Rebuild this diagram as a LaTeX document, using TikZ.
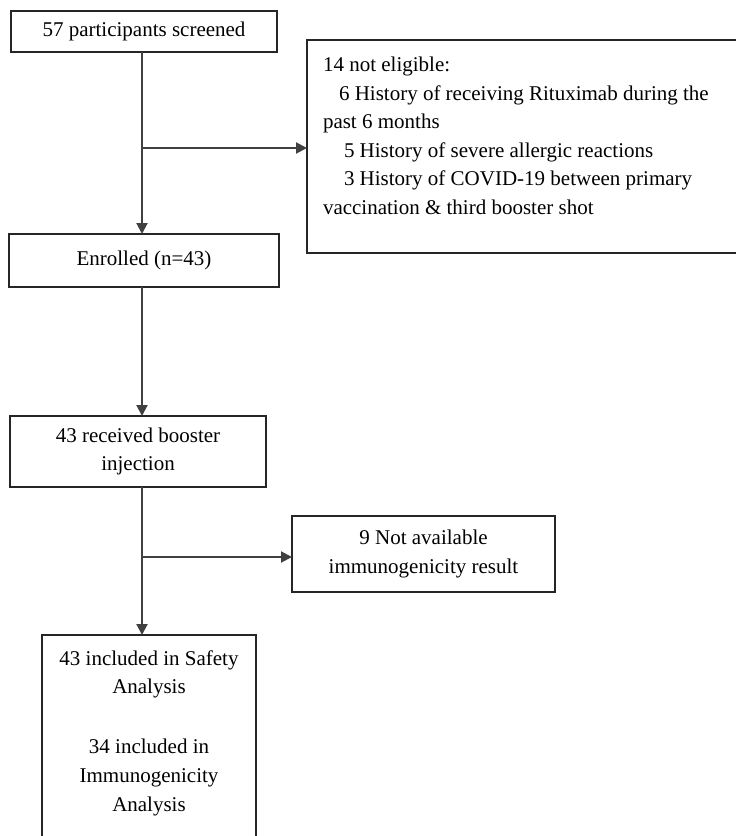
\documentclass[tikz,border=0pt]{standalone}
\usepackage{fontspec}
\setmainfont{Liberation Serif}
\usetikzlibrary{arrows.meta}

\newcommand{\flowfont}{\fontsize{21}{28.6}\selectfont}
\tikzset{
	stagebox/.style={draw=black!85,line width=1.5pt,rectangle,inner sep=0,outer sep=0,align=center,font=\flowfont},
	boxtext/.style={inner sep=0,outer sep=0,font=\flowfont},
	flowline/.style={draw=black!75,line width=2pt,-{Triangle[length=11pt,width=11pt]}},
}

\begin{document}
\begin{tikzpicture}[x=1pt,y=1pt]
	\useasboundingbox (0,0) rectangle (736,-836);
	\clip (0,0) rectangle (736,-836);
	% boxes
	\node[stagebox,minimum width=266pt,minimum height=41pt] (screen) at (144,-31.5) {57 participants screened};
	\node[stagebox,minimum width=450pt,minimum height=213pt,anchor=north west] (excl) at (307,-40) {};
	\node[boxtext,anchor=north west,align=left] (excltext) at (323,-57) {14 not eligible:\\
		\hspace*{16pt}6 History of receiving Rituximab during the\\
		past 6 months\\
		\hspace*{21pt}5 History of severe allergic reactions\\
		\hspace*{21pt}3 History of COVID-19 between primary\\
		vaccination \& third booster shot};
	\node[stagebox,minimum width=270pt,minimum height=53pt] (enrol) at (144,-260.5) {Enrolled (n=43)};
	\node[stagebox,minimum width=256pt,minimum height=71pt] (recv) at (138,-451.5) {43 received booster\\injection};
	\node[stagebox,minimum width=263pt,minimum height=76pt] (avail) at (423.5,-554) {9 Not available\\immunogenicity result};
	\node[stagebox,minimum width=214pt,minimum height=230pt,anchor=north west] (final) at (42,-635) {};
	\node[boxtext,anchor=north,align=center] (finaltext) at (149,-650.5) {43 included in Safety\\Analysis\\[31.4pt]34 included in\\Immunogenicity\\Analysis};
	% connectors
	\coordinate (trunk) at (142,0);
	\coordinate (split1) at (142,-148);
	\coordinate (split2) at (142,-557);
	\draw[flowline] (screen.south -| trunk) -- (enrol.north -| trunk);
	\draw[flowline] (split1) -- (split1 -| excl.west);
	\draw[flowline] (enrol.south -| trunk) -- (recv.north -| trunk);
	\draw[flowline] (recv.south -| trunk) -- (final.north -| trunk);
	\draw[flowline] (split2) -- (split2 -| avail.west);
\end{tikzpicture}
\end{document}
